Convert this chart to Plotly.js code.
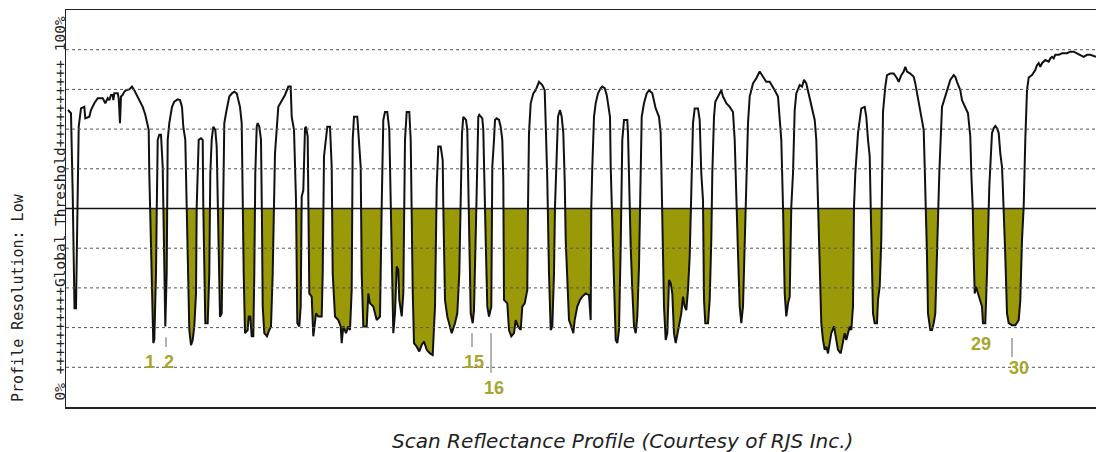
<!DOCTYPE html>
<html>
<head>
<meta charset="utf-8">
<script src="https://cdn.plot.ly/plotly-3.0.1.min.js"></script>
<style>html,body{margin:0;padding:0;background:#fff;}#chart{width:1096px;height:452px;}</style>
</head>
<body>
<div id="chart"></div>
<script>
// Scan position (arbitrary units along the scan) and reflectance (%)
const scanPos = [
68,71,72.7,74.5,76,77.7,78.7,81,84.3,85.3,89.3,91,94.3,97.7,102.7,105.3,107.7,109.3,111,112.7,113.3,114.3,117.7,118.7,120,121,122.7,124.3,126,129.3,132,134.3,136,137.7,140,142.7,145.3,147,148.7,149.3,151,152,153.3,154.3,156,156.7,157.7,159.3,161,162.7,163.7,165.3,166.7,167.7,169.3,172,174.3,177.7,180,182,183.3,185.3,186.7,187.7,189.3,191,192.7,194.3,196,196.7,197.7,198.7,201,202.7,203.3,204.3,205.3,207.7,209.3,210.3,211.7,213.3,215.3,216.7,217.7,218.7,220,221.7,222.7,223.3,224.3,226,227.7,229.3,232,234.3,236.7,238.7,240,241.7,242.7,243.7,245,247.7,248.7,250.3,251.7,253.3,254.3,255.3,256.7,257.7,259.3,261,262,262.7,264.3,267,269.3,271,272.7,275,
278.3,283.3,285,288.3,290.7,291.7,294,296,297.3,299.3,300.7,301.7,303.3,305,306,307.7,308.3,309.3,311.7,313.3,316,318.3,321.7,322.7,324,326,327.3,330,331.7,332.7,335,338.3,340.7,341.7,343.3,346,348.3,350,351.7,352.7,354,357.3,358.3,360.7,361.7,363.3,366.7,368.3,370,373.3,376.7,380,381.7,383.3,385,387.3,389.3,390.7,391.7,393.3,395,396.7,398.3,399.3,401.7,403.3,405,406.7,409.3,410.7,412.7,414,416.7,419.3,421.7,424,426.7,430,432.7,435,436.7,437.3,438.3,440.7,442.7,443.3,445,447.3,450,451.7,455,457.3,459.3,460.7,462,463.3,466,467.3,468.3,469.3,470.7,472.7,474,476,477.3,478.3,479.3,482.3,
483.3,484.7,485.7,487.3,489,491.3,492.3,494,495,496.7,499,500.7,502.3,503.3,504,507.3,509,511.3,514,515.7,518,520.7,522.3,524.7,527.3,528,529,530.7,533.3,535.7,537.3,539,542.3,544.7,545.7,547.3,549,550.7,552.3,554,555,556.7,558,560,561.7,563.3,564.7,565.7,567.3,569,571.3,573.3,574.7,577.3,580,582.3,585.7,589,590.7,591.3,592.3,594,595.7,598,600.7,602.3,604.7,606.7,608,610,610.7,612.3,614,615.7,617.3,619,620.7,622.3,624,627.3,628,629,630.7,632.3,634,635.7,637.3,639,640.7,641.7,644,646.7,649,652.3,655.7,659,660.7,662.3,664,665.7,667.3,669,670.7,672.3,674,675.7,678,
681.3,683,684.7,686.3,688,689.7,691.3,693,694.7,698,699.7,701.3,703,704,705.3,708,709.7,711.3,712.3,714,715.3,718,721.3,723,726.3,729.7,733,734.7,736.3,738,739.7,741.3,743,744.7,746.3,748,749.7,753,756.3,759.7,763,766.3,769.7,773,774.7,778,779.7,781.3,783,784,784.7,786.3,788,789.7,791.3,793,794.7,796.3,799.7,802,804,806.3,808.7,811.3,814.7,816.3,818,819.7,821.3,823,824.7,826.3,828,831.3,834,836.3,838,840.7,843,844.7,846.3,848,849.7,851.3,853,854,855.3,858,859.7,861.3,864.7,866.3,868,869.7,870.7,872,873,874.7,877,878,879.7,881.3,882,883,
885.3,887,890.3,893.7,897,898.7,901.3,903.7,905.3,907,910.3,913.7,915.3,917,918.7,920.3,922,923.7,924.7,926,927,928,929.3,930.3,932,933.7,935.3,937,938,939.3,942,945.3,947,950.3,953.7,955.3,957,960.3,962,965.3,968,969.3,970.3,971.3,972.7,973.7,974.7,976,978,980.3,982,983,985.3,987,988.7,989.3,990.3,992,993.7,995.3,997,998.7,1000.3,1002,1002.7,1003.7,1005.3,1007,1008.7,1012,1015.3,1018.7,1020.3,1022,1023.7,1025.3,1027,1028.7,1032,1035.3,1037,1038.7,1040.3,1042,1045.3,1048.7,1050.3,1052,1053.7,1055.3,1058.7,1062,1067,1070.3,1073.7,1077,1080.3,1083.7,1087,1090.3,1096
];
const reflectance = [
74.8,74.0,53.8,24.9,24.9,53.8,70.6,75.2,75.6,72.7,73.1,74.8,76.5,77.8,77.8,76.5,77.8,77.3,78.6,78.6,77.3,79.0,79.0,77.8,71.5,78.2,78.6,79.4,79.8,80.0,80.7,79.8,79.0,78.2,76.9,75.6,73.6,71.9,69.8,58.8,40.4,27.0,16.1,16.9,33.7,48.8,67.3,68.6,68.6,60.5,42.1,20.3,33.7,67.3,71.5,75.6,76.9,77.5,77.3,75.6,70.6,67.3,50.5,33.7,19.4,15.6,16.9,20.3,28.6,50.5,58.8,67.3,67.7,67.3,50.5,33.7,21.1,21.1,33.7,58.8,67.3,70.6,69.8,65.6,50.5,38.0,22.7,23.6,42.1,58.8,71.5,74.0,76.5,78.2,79.0,79.4,79.0,77.3,75.6,71.5,50.5,33.7,18.6,19.4,22.8,22.8,17.8,17.8,33.7,58.8,70.6,71.5,70.6,67.3,46.3,25.3,18.6,17.8,19.4,20.3,33.7,63.9,
75.6,77.8,78.6,80.7,80.7,73.1,69.8,52.1,21.1,20.3,25.3,53.0,54.6,70.2,70.6,68.1,53.0,28.6,27.8,17.8,23.6,22.8,22.8,33.7,63.1,68.1,70.6,70.6,60.5,33.7,22.8,21.9,20.3,16.1,20.3,18.6,20.3,19.4,29.5,67.3,73.1,73.1,69.8,60.5,33.7,20.3,20.3,28.6,26.1,25.3,21.9,22.8,50.5,72.3,74.3,74.3,69.8,50.5,38.0,18.6,23.6,35.4,34.5,27.0,22.8,28.6,67.3,74.3,74.3,67.3,29.5,16.1,15.2,14.0,15.6,16.5,14.4,13.5,13.1,25.3,55.5,62.2,65.6,65.6,62.2,50.5,27.0,22.8,20.3,18.6,21.1,23.6,33.7,57.2,69.0,73.1,72.3,69.8,55.5,35.4,23.6,21.1,24.4,46.3,67.3,73.1,73.6,72.7,
69.8,57.2,42.1,25.3,22.8,25.3,60.5,67.3,72.3,72.7,72.3,70.6,67.3,57.2,27.0,26.1,19.4,17.8,18.6,21.9,20.3,19.4,25.3,26.1,29.5,50.5,69.0,76.5,79.0,79.8,80.7,81.9,81.1,79.8,71.5,57.2,33.7,19.4,20.3,33.7,50.5,63.1,73.1,74.8,73.1,69.0,57.2,42.1,32.0,21.9,20.3,18.6,21.9,25.3,27.0,27.8,28.6,28.2,21.9,50.5,60.5,73.1,76.5,79.0,80.3,80.7,80.3,78.6,76.5,73.1,60.5,47.9,32.0,16.9,16.1,19.4,40.4,67.3,72.3,72.3,69.0,57.2,40.4,29.5,20.3,18.6,22.8,35.4,57.2,73.1,76.5,79.0,79.8,79.0,75.2,73.1,69.0,50.5,25.3,16.9,18.6,32.0,31.2,28.6,18.6,16.1,19.0,
23.6,27.8,25.3,24.4,29.5,38.0,54.6,71.5,75.2,75.2,72.3,58.8,52.1,27.0,21.1,21.1,27.0,42.1,58.8,73.1,76.9,78.2,79.8,78.2,76.5,75.6,74.3,67.3,50.5,38.7,25.3,21.1,25.3,42.1,60.5,71.5,78.2,81.5,82.8,84.5,83.2,81.9,81.9,80.7,79.8,78.2,73.1,67.3,50.5,40.4,28.6,22.8,26.1,27.8,50.5,58.8,74.8,79.0,81.1,80.7,82.4,81.5,79.0,75.6,72.3,67.3,50.5,33.7,21.1,16.9,14.4,15.2,13.5,18.6,20.3,16.9,14.4,13.5,16.1,18.6,16.9,18.6,20.3,19.4,25.3,50.5,58.8,69.0,73.1,75.2,75.6,73.1,67.3,63.1,50.5,33.7,23.6,21.1,21.1,27.0,30.3,42.1,58.8,74.3,
80.7,83.6,84.0,84.0,82.8,81.9,83.6,84.5,85.7,84.5,84.0,83.2,81.5,79.0,76.5,74.8,72.3,69.8,60.5,50.5,38.0,23.6,21.1,19.4,19.4,21.1,23.6,38.7,50.5,58.8,75.6,78.2,79.8,82.4,83.6,83.2,81.9,79.8,77.3,75.6,74.0,70.6,68.1,58.8,50.5,38.0,28.6,30.3,28.6,26.1,25.3,21.1,21.1,33.7,52.1,55.5,60.5,69.0,70.2,70.8,70.2,69.0,63.9,60.5,56.3,50.5,38.0,23.6,21.1,20.6,20.6,21.9,26.9,42.1,50.5,67.3,79.8,83.0,83.6,84.9,86.1,86.6,85.7,86.6,87.4,87.0,87.8,88.2,87.8,88.7,88.7,89.1,89.1,89.5,89.5,89.1,88.7,88.2,88.7,88.7,88.2
];
const threshold = 50;
const fillStart = 100;            // dips are shaded from here on
const gridLevels = [10, 20, 30, 40, 60, 70, 80, 90];
const markerLabels = ['1', '2', '15', '16', '29', '30'];
const markerPos = [150, 169, 474, 494, 981, 1019];
const tickPos = [166, 472, 491, 1012];

// Build the shaded region (reflectance below threshold)
const fx = [], fy = [];
for (let i = 0; i < scanPos.length; i++) {
  if (scanPos[i] < fillStart) continue;
  const x0 = scanPos[i], y0 = reflectance[i];
  fx.push(x0); fy.push(Math.min(y0, threshold));
  if (i + 1 < scanPos.length) {
    const x1 = scanPos[i + 1], y1 = reflectance[i + 1];
    if ((y0 - threshold) * (y1 - threshold) < 0) {
      fx.push(x0 + (threshold - y0) * (x1 - x0) / (y1 - y0));
      fy.push(threshold);
    }
  }
}
const base = fx.map(() => threshold);

const olive = '#9a9a08';
const labelColor = '#a6a62e';

const traces = [
  {x: fx, y: base, mode: 'lines', line: {width: 0, color: olive}, hoverinfo: 'skip', showlegend: false},
  {x: fx, y: fy, mode: 'lines', fill: 'tonexty', fillcolor: olive, line: {width: 0, color: olive}, hoverinfo: 'skip', showlegend: false},
  {x: scanPos, y: reflectance, mode: 'lines', line: {color: '#111', width: 2}, showlegend: false}
];

const shapes = [];
gridLevels.forEach(g => shapes.push({type: 'line', xref: 'paper', x0: 0, x1: 1, yref: 'y', y0: g, y1: g,
  line: {color: '#555', width: 1, dash: 'dot'}, layer: 'above'}));
shapes.push({type: 'line', xref: 'paper', x0: 0, x1: 1, yref: 'y', y0: threshold, y1: threshold,
  line: {color: '#111', width: 1.5}, layer: 'above'});
const tickTop = [17.6, 18.6, 18.6, 17.4];
const tickBot = [15.1, 15.1, 8.6, 12.6];
tickPos.forEach((p, i) => shapes.push({type: 'line', xref: 'x', yref: 'y', x0: p, x1: p, y0: tickTop[i], y1: tickBot[i],
  line: {color: '#999', width: 1.5}, layer: 'above'}));

const labelLevel = [11.3, 11.3, 11.3, 4.8, 15.9, 9.8];
const annotations = markerLabels.map((t, i) => ({
  x: markerPos[i], y: labelLevel[i], xref: 'x', yref: 'y', text: '<b>' + t + '</b>', showarrow: false,
  font: {family: 'Liberation Sans, Arial, sans-serif', size: 18, color: labelColor},
  xanchor: 'center', yanchor: 'middle'
}));
annotations.push({
  xref: 'paper', yref: 'paper', x: (59 - 66) / 1030, y: 0.5, textangle: -90, showarrow: false,
  text: '0% ++++++++++Global Threshold++++++++++ 100%',
  font: {family: 'DejaVu Sans Mono, monospace', size: 14.5, color: '#222'}, xanchor: 'center', yanchor: 'middle'
});
annotations.push({
  xref: 'paper', yref: 'paper', x: (18 - 66) / 1030, y: (407 - 298) / 397, textangle: -90, showarrow: false,
  text: 'Profile Resolution: Low',
  font: {family: 'DejaVu Sans Mono, monospace', size: 15, color: '#222'}, xanchor: 'center', yanchor: 'middle'
});
annotations.push({
  xref: 'paper', yref: 'paper', x: (622 - 66) / 1030, y: (407 - 441) / 397, showarrow: false,
  text: '<i>Scan Reflectance Profile (Courtesy of RJS Inc.)</i>',
  font: {family: 'DejaVu Sans, sans-serif', size: 20, color: '#222'}, xanchor: 'center', yanchor: 'middle'
});

const layout = {
  width: 1096, height: 452,
  margin: {l: 66, r: 0, t: 10, b: 45},
  paper_bgcolor: '#fff', plot_bgcolor: '#fff',
  xaxis: {range: [66, 1096], showgrid: false, zeroline: false, showticklabels: false, ticks: '',
    showline: true, mirror: true, linecolor: '#222', linewidth: 1.5},
  yaxis: {range: [0, 100], showgrid: false, zeroline: false, showticklabels: false, ticks: '',
    showline: true, linecolor: '#222', linewidth: 1.5},
  shapes: shapes,
  annotations: annotations,
  showlegend: false
};

Plotly.newPlot('chart', traces, layout, {staticPlot: true, displayModeBar: false});
</script>
</body>
</html>
